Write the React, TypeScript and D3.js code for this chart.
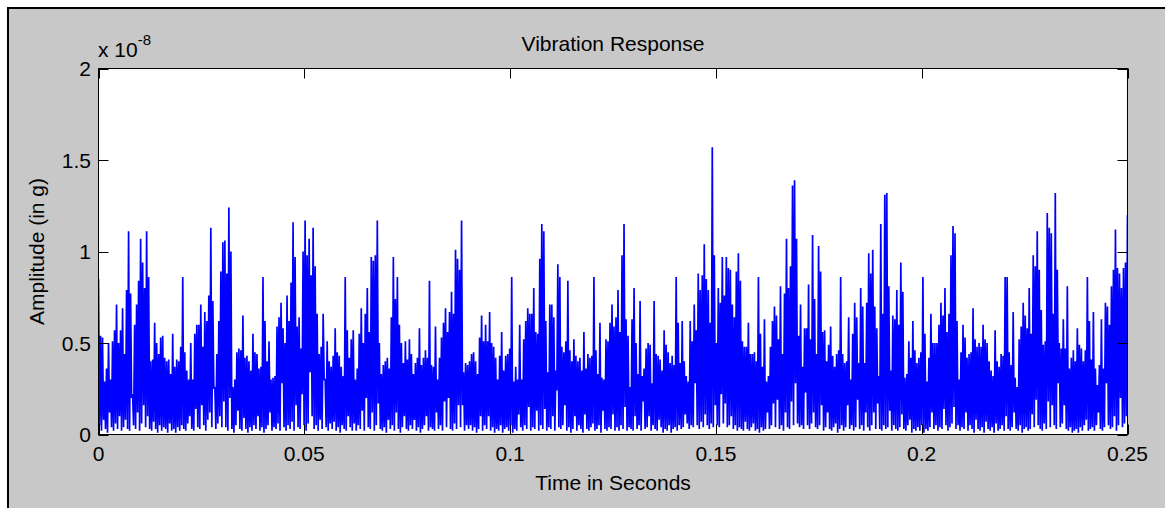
import React from 'react';
import * as d3 from 'd3';

// ---- Chart text ----
const TITLE = 'Vibration Response';
const X_LABEL = 'Time in Seconds';
const Y_LABEL = 'Amplitude (in g)';
const EXPONENT_BASE = 'x 10';
const EXPONENT = '-8';

// ---- Axes ----
const DURATION = 0.25; // seconds
const Y_MAX = 2; // in units of 1e-8 g
const xTicks = [0, 0.05, 0.1, 0.15, 0.2, 0.25];
const xTickLabels = ['0', '0.05', '0.1', '0.15', '0.2', '0.25'];
const yTicks = [0, 0.5, 1, 1.5, 2];
const yTickLabels = ['0', '0.5', '1', '1.5', '2'];

// ---- Signal (units of 1e-8 g): local maxima and minima, evenly spaced in time ----
const peaks = [
  // 0 - 0.031 s
  0.85, 0.54, 0.53, 0.29, 0.36, 0.5, 0.3, 0.51, 0.57, 0.71, 0.5, 0.57, 0.69, 0.44, 0.79, 1.11, 0.77, 0.22, 0.6, 0.71,
  0.84, 1.07, 0.94, 0.8, 1.11, 0.86, 0.4, 0.41, 0.61, 0.5, 0.44, 0.53, 0.54, 0.42, 0.4, 0.41, 0.33, 0.55, 0.37, 0.41,
  0.4, 0.48, 0.86, 0.45, 0.35, 0.3, 0.5, 0.3, 0.55, 0.6, 0.6, 0.71, 0.48, 0.67, 0.62, 0.76, 1.13, 0.73, 0.26, 0.44,
  0.62, 0.89, 1.05,
  // 0.031 - 0.062 s
  1.06, 0.88, 1.24, 1.0, 0.26, 0.3, 0.45, 0.47, 0.46, 0.65, 0.42, 0.43, 0.4, 0.35, 0.55, 0.45, 0.44, 0.36, 0.37, 0.86,
  0.62, 0.4, 0.51, 0.3, 0.31, 0.32, 0.59, 0.64, 0.72, 0.58, 0.5, 0.76, 0.62, 0.83, 1.16, 0.97, 0.59, 0.64, 0.47, 1.0,
  1.17, 0.98, 1.07, 0.87, 1.13, 0.92, 0.66, 0.44, 0.48, 0.66, 0.3, 0.51, 0.4, 0.37, 0.43, 0.58, 0.45, 0.43, 0.37, 0.32,
  0.86, 0.57, 0.42, 0.52, 0.57,
  // 0.062 - 0.094 s
  0.3, 0.36, 0.55, 0.69, 0.5, 0.66, 0.8, 0.56, 0.97, 0.95, 0.98, 1.17, 0.5, 0.33, 0.38, 0.4, 0.42, 0.36, 0.64, 0.97,
  0.74, 0.86, 0.6, 0.5, 0.39, 0.51, 0.41, 0.52, 0.44, 0.33, 0.39, 0.42, 0.58, 0.38, 0.42, 0.46, 0.42, 0.84, 0.38, 0.37,
  0.59, 0.3, 0.42, 0.53, 0.61, 0.69, 0.56, 0.67, 0.78, 0.66, 1.01, 0.96, 0.9, 1.17, 0.34, 0.39, 0.38, 0.4, 0.44, 0.45,
  0.4, 0.33, 0.53, 0.65, 0.51,
  // 0.094 - 0.125 s
  0.6, 0.51, 0.67, 0.5, 0.48, 0.42, 0.3, 0.43, 0.56, 0.35, 0.43, 0.44, 0.47, 0.86, 0.29, 0.37, 0.3, 0.6, 0.3, 0.52,
  0.62, 0.69, 0.66, 0.66, 0.8, 0.56, 0.55, 0.96, 1.15, 1.11, 0.62, 0.34, 0.71, 0.71, 0.64, 0.35, 0.93, 0.86, 0.48, 0.45,
  0.51, 0.84, 0.46, 0.4, 0.52, 0.43, 0.4, 0.42, 0.35, 0.56, 0.36, 0.44, 0.42, 0.43, 0.86, 0.46, 0.33, 0.61, 0.31, 0.3,
  0.52, 0.51, 0.61, 0.71, 0.59,
  // 0.125 - 0.157 s
  0.64, 0.79, 0.56, 0.98, 1.15, 0.63, 0.54, 0.26, 0.63, 0.8, 0.5, 0.33, 0.73, 0.32, 0.36, 0.47, 0.5, 0.49, 0.28, 0.73,
  0.44, 0.43, 0.41, 0.35, 0.57, 0.49, 0.45, 0.39, 0.43, 0.38, 0.86, 0.61, 0.39, 0.62, 0.4, 0.32, 0.29, 0.62, 0.51, 0.71,
  0.57, 0.88, 0.79, 0.87, 1.04, 0.85, 0.79, 0.61, 1.57, 0.98, 0.5, 0.8, 0.72, 0.97, 0.76, 0.97, 0.91, 0.9, 0.71, 0.64,
  0.89, 0.99, 0.84, 0.51, 0.48,
  // 0.157 - 0.188 s
  0.48, 0.61, 0.44, 0.44, 0.45, 0.4, 0.86, 0.55, 0.37, 0.63, 0.29, 0.32, 0.48, 0.62, 0.7, 0.65, 0.52, 0.81, 0.44, 0.77,
  1.07, 0.8, 0.92, 1.36, 1.39, 1.07, 0.54, 0.71, 0.37, 0.58, 0.58, 0.82, 0.52, 1.09, 0.74, 0.44, 1.03, 0.89, 0.56, 0.57,
  0.4, 0.49, 0.59, 0.43, 0.37, 0.44, 0.46, 0.86, 0.44, 0.39, 0.4, 0.64, 0.3, 0.55, 0.72, 0.64, 0.39, 0.8, 0.7, 0.39,
  0.72, 0.99, 0.88, 1.01, 0.7,
  // 0.188 - 0.220 s
  0.58, 0.32, 1.15, 0.66, 1.31, 1.32, 0.81, 0.35, 0.65, 0.63, 0.79, 0.6, 0.94, 0.78, 0.31, 0.33, 0.51, 0.42, 0.62, 0.46,
  0.39, 0.42, 0.45, 0.86, 0.55, 0.29, 0.42, 0.66, 0.5, 0.5, 0.5, 0.6, 0.72, 0.65, 0.8, 0.56, 0.66, 0.98, 1.14, 1.1,
  0.62, 0.3, 0.45, 0.6, 0.53, 0.42, 0.44, 0.45, 0.69, 0.52, 0.48, 0.5, 0.48, 0.6, 0.52, 0.5, 0.4, 0.35, 0.32, 0.57,
  0.4, 0.37, 0.44, 0.43, 0.86,
  // 0.220 - 0.250 s
  0.86, 0.45, 0.38, 0.67, 0.31, 0.26, 0.52, 0.59, 0.72, 0.65, 0.58, 0.8, 0.55, 0.98, 0.92, 1.11, 0.9, 0.68, 0.49, 0.51,
  1.21, 1.13, 1.1, 0.66, 1.32, 0.9, 0.5, 0.47, 0.63, 0.47, 0.81, 0.36, 0.42, 0.46, 0.4, 0.58, 0.49, 0.47, 0.4, 0.46,
  0.86, 0.62, 0.41, 0.67, 0.36, 0.27, 0.38, 0.63, 0.36, 0.72, 0.7, 0.6, 0.81, 0.9, 1.12, 0.91, 0.88, 0.8, 0.91, 0.94,
  1.2,
];

const troughs = [
  // 0 - 0.031 s
  0.05, 0.02, 0.08, 0.03, 0.01, 0.12, 0.04, 0.02, 0.06, 0.03, 0.1, 0.02, 0.04, 0.08, 0.03, 0.02, 0.2, 0.05, 0.03, 0.12,
  0.02, 0.06, 0.16, 0.04, 0.1, 0.03, 0.02, 0.07, 0.03, 0.01, 0.05, 0.02, 0.04, 0.03, 0.01, 0.06, 0.02, 0.03, 0.01, 0.04,
  0.02, 0.05, 0.03, 0.02, 0.06, 0.1, 0.03, 0.02, 0.14, 0.04, 0.03, 0.16, 0.05, 0.02, 0.08, 0.12, 0.04, 0.25, 0.03, 0.06,
  0.1, 0.04, 0.18,
  // 0.031 - 0.062 s
  0.04, 0.02, 0.2, 0.03, 0.01, 0.05, 0.13, 0.03, 0.02, 0.09, 0.03, 0.01, 0.04, 0.02, 0.05, 0.03, 0.1, 0.02, 0.04, 0.01,
  0.03, 0.05, 0.12, 0.02, 0.04, 0.03, 0.06, 0.02, 0.28, 0.04, 0.02, 0.05, 0.03, 0.07, 0.02, 0.16, 0.04, 0.03, 0.22, 0.05,
  0.02, 0.06, 0.34, 0.1, 0.03, 0.05, 0.02, 0.08, 0.03, 0.3, 0.04, 0.02, 0.06, 0.03, 0.07, 0.02, 0.04, 0.01, 0.05, 0.03,
  0.02, 0.1, 0.04, 0.02, 0.06,
  // 0.062 - 0.094 s
  0.02, 0.05, 0.03, 0.13, 0.02, 0.2, 0.04, 0.03, 0.12, 0.02, 0.05, 0.17, 0.03, 0.02, 0.04, 0.01, 0.08, 0.03, 0.05, 0.02,
  0.12, 0.03, 0.01, 0.04, 0.1, 0.03, 0.02, 0.05, 0.03, 0.08, 0.02, 0.04, 0.01, 0.03, 0.05, 0.1, 0.02, 0.04, 0.03, 0.02,
  0.12, 0.03, 0.05, 0.02, 0.18, 0.04, 0.2, 0.03, 0.02, 0.06, 0.03, 0.16, 0.04, 0.16, 0.02, 0.05, 0.03, 0.05, 0.02, 0.04,
  0.01, 0.03, 0.1, 0.02, 0.05,
  // 0.094 - 0.125 s
  0.03, 0.1, 0.02, 0.04, 0.01, 0.03, 0.02, 0.05, 0.01, 0.03, 0.04, 0.02, 0.05, 0.01, 0.03, 0.02, 0.11, 0.04, 0.02, 0.05,
  0.03, 0.15, 0.02, 0.04, 0.03, 0.13, 0.02, 0.05, 0.03, 0.14, 0.02, 0.04, 0.03, 0.1, 0.02, 0.24, 0.04, 0.03, 0.05, 0.16,
  0.02, 0.04, 0.01, 0.03, 0.1, 0.02, 0.05, 0.03, 0.01, 0.11, 0.03, 0.02, 0.04, 0.06, 0.02, 0.03, 0.05, 0.01, 0.13, 0.03,
  0.02, 0.04, 0.03, 0.11, 0.02,
  // 0.125 - 0.157 s
  0.04, 0.02, 0.05, 0.03, 0.15, 0.02, 0.04, 0.03, 0.02, 0.1, 0.03, 0.05, 0.02, 0.18, 0.03, 0.04, 0.1, 0.02, 0.05, 0.03,
  0.02, 0.08, 0.04, 0.01, 0.03, 0.02, 0.05, 0.01, 0.03, 0.04, 0.02, 0.05, 0.03, 0.04, 0.11, 0.06, 0.03, 0.05, 0.04, 0.28,
  0.05, 0.03, 0.07, 0.04, 0.11, 0.05, 0.03, 0.06, 0.04, 0.16, 0.05, 0.04, 0.22, 0.06, 0.17, 0.04, 0.05, 0.1, 0.03, 0.05,
  0.02, 0.04, 0.03, 0.02, 0.07,
  // 0.157 - 0.188 s
  0.03, 0.02, 0.04, 0.06, 0.02, 0.03, 0.01, 0.04, 0.02, 0.03, 0.12, 0.03, 0.05, 0.17, 0.04, 0.19, 0.03, 0.05, 0.02, 0.12,
  0.04, 0.03, 0.18, 0.05, 0.28, 0.06, 0.04, 0.05, 0.03, 0.23, 0.05, 0.03, 0.06, 0.12, 0.04, 0.03, 0.05, 0.16, 0.02, 0.04,
  0.12, 0.03, 0.02, 0.04, 0.06, 0.01, 0.03, 0.05, 0.02, 0.04, 0.16, 0.03, 0.05, 0.02, 0.04, 0.19, 0.03, 0.05, 0.02, 0.12,
  0.04, 0.02, 0.05, 0.12, 0.03,
  // 0.188 - 0.220 s
  0.17, 0.03, 0.02, 0.05, 0.03, 0.04, 0.13, 0.02, 0.05, 0.03, 0.02, 0.04, 0.11, 0.03, 0.02, 0.05, 0.08, 0.01, 0.03, 0.02,
  0.04, 0.02, 0.05, 0.01, 0.03, 0.02, 0.04, 0.12, 0.03, 0.05, 0.02, 0.04, 0.03, 0.14, 0.05, 0.02, 0.04, 0.06, 0.15, 0.03,
  0.05, 0.02, 0.04, 0.03, 0.12, 0.02, 0.05, 0.03, 0.01, 0.08, 0.03, 0.02, 0.04, 0.01, 0.07, 0.03, 0.02, 0.04, 0.01, 0.06,
  0.02, 0.03, 0.05, 0.02, 0.1,
  // 0.220 - 0.250 s
  0.03, 0.02, 0.04, 0.12, 0.03, 0.02, 0.05, 0.01, 0.03, 0.04, 0.02, 0.03, 0.11, 0.04, 0.19, 0.05, 0.03, 0.02, 0.06, 0.03,
  0.18, 0.04, 0.16, 0.05, 0.03, 0.28, 0.04, 0.06, 0.16, 0.03, 0.02, 0.04, 0.01, 0.02, 0.03, 0.01, 0.04, 0.02, 0.05, 0.08,
  0.02, 0.03, 0.04, 0.02, 0.05, 0.12, 0.03, 0.02, 0.04, 0.28, 0.05, 0.03, 0.04, 0.1, 0.02, 0.05, 0.2, 0.04, 0.06, 0.1,
  0.04,
];

const FONT = "'Liberation Sans', Arial, Helvetica, sans-serif";

export default function App() {
  const W = 1165;
  const H = 508;
  const left = 98.5;
  const right = 1127.5;
  const top = 68.5;
  const bottom = 434.5;
  const tickLen = 10;
  const fs = 21;

  const x = d3.scaleLinear().domain([0, DURATION]).range([left, right]);
  const y = d3.scaleLinear().domain([0, Y_MAX]).range([bottom, top]);

  const n = Math.min(peaks.length, troughs.length);
  const dt = DURATION / (n - 1);
  const pts: [number, number][] = [];
  for (let i = 0; i < n; i++) {
    pts.push([i * dt, peaks[i]]);
    if (i < n - 1) pts.push([(i + 0.5) * dt, troughs[i]]);
  }
  const line = d3
    .line<[number, number]>()
    .x((d) => x(d[0]))
    .y((d) => y(d[1]));

  const midX = (left + right) / 2;
  const midY = (top + bottom) / 2;

  return (
    <div style={{ position: 'absolute', left: 0, top: 0, width: W, height: H, overflow: 'hidden' }}>
      <svg width={W} height={H} style={{ display: 'block' }} fontFamily={FONT}>
        <rect x={0} y={0} width={W} height={H} fill="#ffffff" />
        <rect x={8} y={8} width={W + 10} height={H + 10} fill="#c8c8c8" stroke="#000" strokeWidth={2} />
        <defs>
          <clipPath id="plotclip">
            <rect x={left} y={top} width={right - left} height={bottom - top} />
          </clipPath>
        </defs>
        <rect x={left} y={top} width={right - left} height={bottom - top} fill="#ffffff" />
        <path
          d={line(pts) || ''}
          fill="none"
          stroke="#0000ff"
          strokeWidth={1.7}
          strokeLinejoin="miter"
          strokeMiterlimit={2}
          clipPath="url(#plotclip)"
        />
        {/* box */}
        <rect x={left} y={top} width={right - left} height={bottom - top} fill="none" stroke="#000" strokeWidth={1} />
        {/* x ticks */}
        {xTicks.map((t, i) => (
          <g key={'xt' + i}>
            <line x1={Math.round(x(t)) + 0.5} x2={Math.round(x(t)) + 0.5} y1={bottom} y2={bottom - tickLen} stroke="#000" />
            <line x1={Math.round(x(t)) + 0.5} x2={Math.round(x(t)) + 0.5} y1={top} y2={top + tickLen} stroke="#000" />
            <text x={x(t)} y={461} textAnchor="middle" fontSize={fs} fill="#000">
              {xTickLabels[i]}
            </text>
          </g>
        ))}
        {/* y ticks */}
        {yTicks.map((t, i) => (
          <g key={'yt' + i}>
            <line x1={left} x2={left + tickLen} y1={Math.round(y(t)) + 0.5} y2={Math.round(y(t)) + 0.5} stroke="#000" />
            <line x1={right} x2={right - tickLen} y1={Math.round(y(t)) + 0.5} y2={Math.round(y(t)) + 0.5} stroke="#000" />
            <text x={91} y={y(t) + 7.5} textAnchor="end" fontSize={fs} fill="#000">
              {yTickLabels[i]}
            </text>
          </g>
        ))}
        {/* exponent */}
        <text x={98} y={57} fontSize={fs} fill="#000">
          {EXPONENT_BASE}
          <tspan dy={-12} fontSize={15}>
            {EXPONENT}
          </tspan>
        </text>
        {/* title */}
        <text x={midX} y={51} textAnchor="middle" fontSize={fs} fill="#000">
          {TITLE}
        </text>
        {/* x label */}
        <text x={midX} y={490} textAnchor="middle" fontSize={fs} fill="#000">
          {X_LABEL}
        </text>
        {/* y label */}
        <text transform={`translate(44,${midY}) rotate(-90)`} textAnchor="middle" fontSize={fs} fill="#000">
          {Y_LABEL}
        </text>
      </svg>
    </div>
  );
}
